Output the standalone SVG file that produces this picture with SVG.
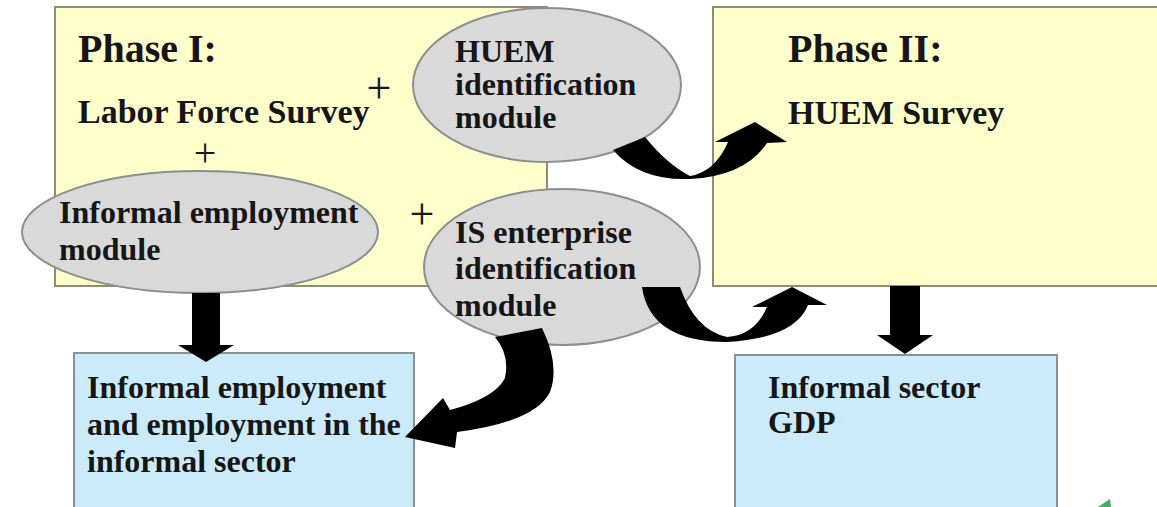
<svg xmlns="http://www.w3.org/2000/svg" width="1157" height="507" viewBox="0 0 1157 507">
<style>
.phase{fill:#FFFFCC;stroke:#8c8c78;stroke-width:2}
.res{fill:#CCEBFA;stroke:#8a8f94;stroke-width:2}
.ell{fill:#D9D9D9;stroke:#8e8e8e;stroke-width:2}
text{font-family:"Liberation Serif","Times New Roman",serif;font-weight:bold;fill:#161616}
.h{font-size:40px}
.s{font-size:34px}
.t{font-size:32px}
.plus{font-size:44px;font-weight:normal;text-anchor:middle}
.arr{fill:#000}
</style>
<rect width="1157" height="507" fill="#fff"/>
<g id="phase1">
<rect class="phase" x="55" y="7" width="492" height="279"/>
<text class="h" x="78" y="62">Phase I:</text>
<text class="s" x="78" y="123">Labor Force Survey</text>
<text class="plus" x="379" y="103">+</text>
<text class="plus" x="205" y="166" style="font-size:40px">+</text>
<text class="plus" x="422" y="229">+</text>
</g>
<g id="phase2">
<rect class="phase" x="713" y="7" width="450" height="279"/>
<text class="h" x="788" y="62">Phase II:</text>
<text class="s" x="788" y="124">HUEM Survey</text>
</g>
<g id="huem">
<ellipse class="ell" cx="547" cy="85" rx="134" ry="77"/>
<text class="t" x="455" y="62">HUEM</text>
<text class="t" x="455" y="95">identification</text>
<text class="t" x="455" y="128">module</text>
</g>
<g id="iem">
<ellipse class="ell" cx="200" cy="232" rx="178" ry="61"/>
<text class="t" x="59" y="223">Informal employment</text>
<text class="t" x="59" y="260">module</text>
</g>
<g id="isem">
<ellipse class="ell" cx="562" cy="267" rx="138" ry="78"/>
<text class="t" x="455" y="243">IS enterprise</text>
<text class="t" x="455" y="279">identification</text>
<text class="t" x="455" y="316">module</text>
</g>
<g id="res1">
<rect class="res" x="74" y="353" width="340" height="170"/>
<text class="t" x="87" y="398">Informal employment</text>
<text class="t" x="87" y="435">and employment in the</text>
<text class="t" x="87" y="472">informal sector</text>
</g>
<g id="res2">
<rect class="res" x="735" y="355" width="322" height="170"/>
<text class="t" x="768" y="398">Informal sector</text>
<text class="t" x="768" y="433">GDP</text>
</g>
<g id="connectors">
<path class="arr" d="M613,150 Q640,181 690,179 Q745,176 767,143 L787,142 L755,122 L715,142 L728,142 Q715,172 690,176 Q668,165 645,137 Z"/>
<path class="arr" d="M642,287 Q650,342 727,342 Q795,338 808,305 L827,305 L792,287 L752,307 L767,307 Q755,335 727,337 Q695,330 680,287 Z"/>
<path class="arr" d="M495,337 L542,328 Q560,365 550,392 Q535,422 457,432 L455,448 L405,437 L443,398 L450,410 Q495,398 505,378 Q510,355 495,337 Z"/>
<path class="arr" d="M192,293 L220,293 L220,345 L234,345 L206,362 L178,345 L192,345 Z"/>
<path class="arr" d="M890,286 L920,286 L920,335 L933,335 L905,354 L877,335 L890,335 Z"/>
</g>
<polygon points="1098,507 1110,499 1111,507" fill="#3fae63"/>
</svg>
